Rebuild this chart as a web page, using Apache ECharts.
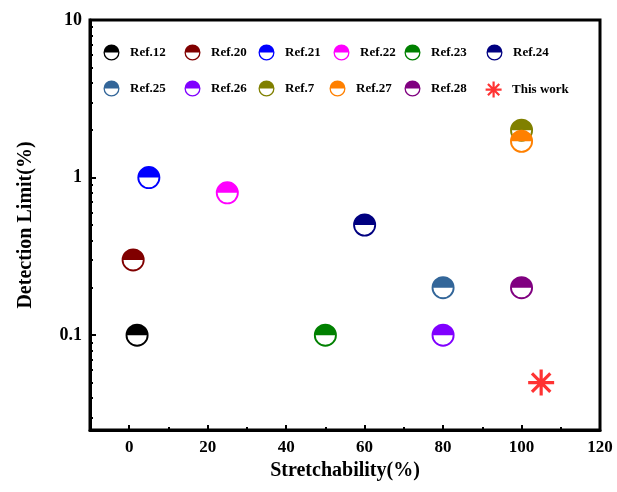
<!DOCTYPE html>
<html>
<head>
<meta charset="utf-8">
<script src="https://cdn.jsdelivr.net/npm/echarts@6/dist/echarts.min.js"></script>
<style>
  html, body { margin: 0; padding: 0; background: #fff; }
  #chart { width: 617px; height: 492px; }
</style>
</head>
<body>
<div id="chart"></div>
<script>
// reference names, colours and points (stretchability %, detection limit %)
const refNames = ['Ref.12', 'Ref.20', 'Ref.21', 'Ref.22', 'Ref.23', 'Ref.24',
                  'Ref.25', 'Ref.26', 'Ref.7', 'Ref.27', 'Ref.28', 'This work']
const refColors = ['#000000', '#800000', '#0000ff', '#ff00ff', '#008000', '#000080',
                   '#336699', '#8000ff', '#808000', '#ff8000', '#800080', '#ff0000']
const stretch = [2, 1, 5, 25, 50, 60, 80, 80, 100, 100, 100, 105]
const limit = [0.1, 0.3, 1.0, 0.8, 0.1, 0.5, 0.2, 0.1, 2.0, 1.7, 0.2, 0.05]

const xTicks = [0, 20, 40, 60, 80, 100, 120]
const xMinorTicks = [10, 30, 50, 70, 90, 110]
const yTicks = [0.1, 1, 10]
const yMinorTicks = [0.03, 0.04, 0.05, 0.06, 0.07, 0.08, 0.09,
                     0.2, 0.3, 0.4, 0.5, 0.6, 0.7, 0.8, 0.9,
                     2, 3, 4, 5, 6, 7, 8, 9]

// legend icon centres, two rows of six
const legendX = [112, 193, 267, 342, 413, 495, 112, 193, 267, 338, 413, 493]
const legendY = [47, 47, 47, 47, 47, 47, 83, 83, 83, 83, 83, 83]

const halfCircle = 'path://M-100 0 A100 100 0 0 1 100 0 Z M-100 0 A100 100 0 0 0 100 0 L84 0 A84 84 0 0 1 -84 0 Z'
const star = 'path://M0 -10 L0 10 M-10 0 L10 0 M-7.07 -7.07 L7.07 7.07 M-7.07 7.07 L7.07 -7.07'

const font = 'Liberation Serif'
const myChart = echarts.init(document.getElementById('chart'))

const series = refNames.map((name, i) => {
    const isStar = name === 'This work'
    return {
        name: name,
        type: 'scatter',
        symbol: isStar ? star : halfCircle,
        symbolSize: isStar ? 26 : 23,
        itemStyle: isStar
            ? { color: refColors[i], borderColor: refColors[i], borderWidth: 3.2 }
            : { color: refColors[i], borderWidth: 0, opacity: 1 },
        data: [[stretch[i], limit[i]]]
    }
})

const legends = refNames.map((name, i) => ({
    data: [{
        name: name,
        icon: name === 'This work' ? star : halfCircle,
        itemStyle: name === 'This work' ? { borderColor: refColors[i], borderWidth: 2.2 } : undefined
    }],
    left: legendX[i] - 13.5,
    top: legendY[i] - 7.5,
    itemWidth: 27,
    itemHeight: 16,
    symbolKeepAspect: true,
    selectedMode: false,
    textStyle: { fontFamily: font, fontWeight: 'bold', fontSize: 13, color: '#000' }
}))

myChart.setOption({
    animation: false,
    backgroundColor: '#fff',
    grid: { left: 90, top: 20, right: 17, bottom: 62, show: true, borderColor: '#000', borderWidth: 3 },
    legend: legends,
    xAxis: [{
        type: 'value',
        min: -10,
        max: 120,
        name: 'Stretchability(%)',
        nameLocation: 'middle',
        nameGap: 30,
        nameTextStyle: { fontFamily: font, fontWeight: 'bold', fontSize: 20, color: '#000' },
        splitLine: { show: false },
        axisLine: { onZero: false, lineStyle: { color: '#000', width: 3 } },
        axisTick: { customValues: xTicks, inside: true, length: 5, lineStyle: { color: '#000', width: 2 } },
        axisLabel: { customValues: xTicks, margin: 9, fontFamily: font, fontWeight: 'bold', fontSize: 17, color: '#000' }
    }, {
        type: 'value',
        min: -10,
        max: 120,
        position: 'bottom',
        splitLine: { show: false },
        axisLine: { show: false, onZero: false },
        axisTick: { customValues: xMinorTicks, inside: true, length: 3, lineStyle: { color: '#000', width: 2 } },
        axisLabel: { show: false }
    }],
    yAxis: [{
        type: 'log',
        logBase: 10,
        min: 0.025,
        max: 10,
        name: 'Detection Limit(%)',
        nameLocation: 'middle',
        nameGap: 54,
        nameTextStyle: { fontFamily: font, fontWeight: 'bold', fontSize: 20, color: '#000' },
        splitLine: { show: false },
        axisLine: { onZero: false, lineStyle: { color: '#000', width: 3 } },
        axisTick: { customValues: yTicks, inside: true, length: 6, lineStyle: { color: '#000', width: 2 } },
        axisLabel: {
            customValues: yTicks, margin: 8, fontFamily: font, fontWeight: 'bold', fontSize: 18, color: '#000',
            formatter: v => String(v)
        }
    }, {
        type: 'log',
        logBase: 10,
        min: 0.025,
        max: 10,
        position: 'left',
        splitLine: { show: false },
        axisLine: { show: false, onZero: false },
        axisTick: { customValues: yMinorTicks, inside: true, length: 3, lineStyle: { color: '#000', width: 2 } },
        axisLabel: { show: false }
    }],
    series: series
})
</script>
</body>
</html>
